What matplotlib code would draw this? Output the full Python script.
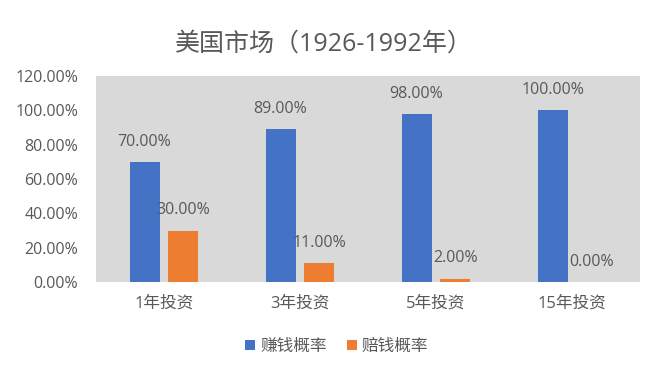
import numpy as np
import matplotlib.pyplot as plt

plt.rcParams['font.family'] = ['Open Sans', 'Noto Sans CJK SC', 'DejaVu Sans']

title = '美国市场（1926-1992年）'
categories = ['1年投资', '3年投资', '5年投资', '15年投资']
series_names = ['赚钱概率', '赔钱概率']
win_rate = [70.0, 89.0, 98.0, 100.0]
lose_rate = [30.0, 11.0, 2.0, 0.0]
y_ticks = [0, 20, 40, 60, 80, 100, 120]

text_color = '#595959'
colors = ['#4472C4', '#ED7D31']

fig = plt.figure(figsize=(6.6, 3.72), dpi=100)
ax = fig.add_axes([96 / 660, 1 - 282 / 372, (640 - 96) / 660, (282 - 76) / 372])
ax.set_facecolor('#D9D9D9')

x = np.arange(len(categories))
width = 0.22
offset = 0.143
for vals, name, col, dx in [(win_rate, series_names[0], colors[0], -offset),
                            (lose_rate, series_names[1], colors[1], offset)]:
    bars = ax.bar(x + dx, vals, width, color=col, label=name, zorder=2)
    for b, v in zip(bars, vals):
        ax.annotate(f'{v:.2f}%', (b.get_x() + b.get_width() / 2, v),
                    xytext=(0, 14.5), textcoords='offset points',
                    ha='center', va='center', fontsize=11.5, color=text_color)

ax.set_xlim(-0.5, len(categories) - 0.5)
ax.set_ylim(0, 120)
ax.set_yticks(y_ticks)
ax.set_yticklabels([f'{t:.2f}%' for t in y_ticks], fontsize=11.5, color=text_color)
ax.set_xticks(x)
ax.set_xticklabels(categories, fontsize=12, color=text_color)
ax.tick_params(length=0, pad=13)
ax.tick_params(axis='x', pad=10)
for s in ax.spines.values():
    s.set_visible(False)

fig.text(324 / 660, 1 - 44 / 372, title, ha='center', va='center', fontsize=18, color=text_color)

fig.legend(loc='center', bbox_to_anchor=(0.51, 1 - 347 / 372), ncol=2, frameon=False,
           fontsize=12, labelcolor=text_color, handlelength=0.6, handleheight=0.6,
           handletextpad=0.3, columnspacing=1.2)

fig.savefig('out.png', dpi=100, facecolor='white')
